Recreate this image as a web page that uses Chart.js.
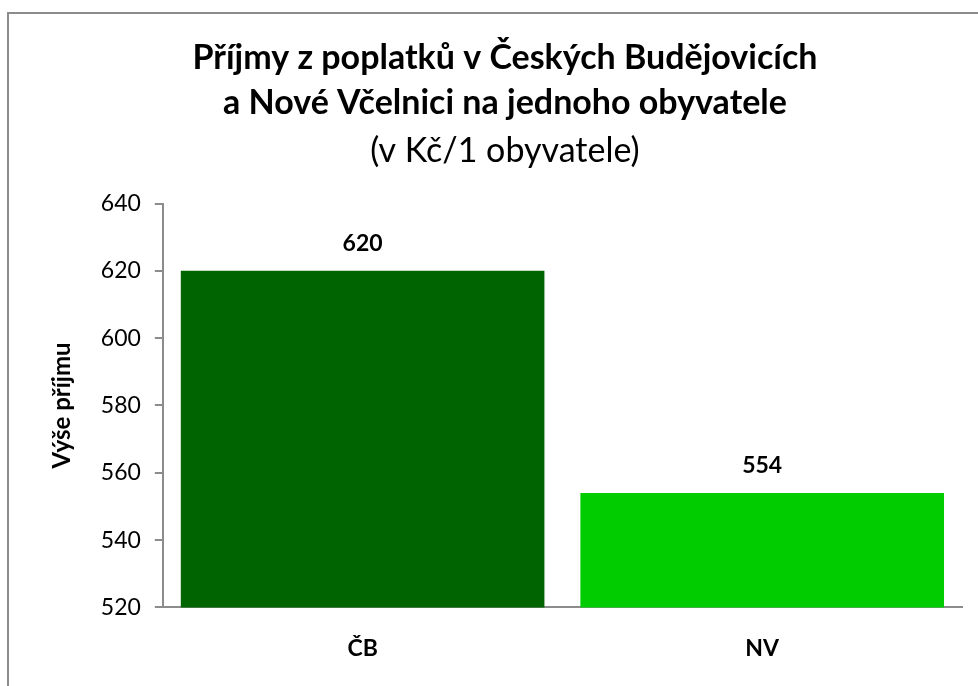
<!DOCTYPE html>
<html>
<head>
<meta charset="utf-8">
<script src="https://cdn.jsdelivr.net/npm/chart.js@4.4.0/dist/chart.umd.min.js"></script>
<style>
  html, body { margin: 0; padding: 0; background: #fff; }
  #wrap { width: 978px; height: 686px; position: relative; }
</style>
</head>
<body>
<div id="wrap"><canvas id="chart"></canvas></div>
<script>
// data
const categories = ['ČB', 'NV'];
const values = [620, 554];
const barColors = ['#006400', '#00CC00'];
const titleLines = ['Příjmy z poplatků v Českých Budějovicích', 'a Nové Včelnici na jednoho obyvatele'];
const subtitleText = '(v Kč/1 obyvatele)';
const yTitle = 'Výše příjmu';
const yMin = 520, yMax = 640, yStep = 20;

const FONT = 'Lato, "Open Sans", sans-serif';

// gray frame round the chart (top and left edge only visible, like the screenshot)
const framePlugin = {
    id: 'frame',
    beforeDraw(chart) {
        const c = chart.ctx;
        c.save();
        c.fillStyle = '#fff';
        c.fillRect(0, 0, chart.width, chart.height);
        c.strokeStyle = '#8c8c8c';
        c.lineWidth = 2;
        c.strokeRect(8, 13, chart.width + 20, chart.height + 20);
        c.restore();
    }
};

// value labels above the bars
const valueLabels = {
    id: 'valueLabels',
    afterDatasetsDraw(chart) {
        const c = chart.ctx;
        const meta = chart.getDatasetMeta(0);
        c.save();
        c.font = 'bold 23px ' + FONT;
        c.fillStyle = '#000';
        c.textAlign = 'center';
        c.textBaseline = 'middle';
        meta.data.forEach((bar, i) => {
            c.fillText(values[i], bar.x, bar.y - 27);
        });
        c.restore();
    }
};

const ctx = document.getElementById('chart').getContext('2d');
const chart = new Chart(ctx, {
    type: 'bar',
    data: {
        labels: categories,
        datasets: [{
            data: values,
            backgroundColor: barColors,
            borderWidth: 0,
            barPercentage: 0.91,
            categoryPercentage: 1.0
        }]
    },
    options: {
        responsive: true,
        maintainAspectRatio: false,
        animation: false,
        layout: { padding: { top: 13, left: 48, right: 16, bottom: 5 } },
        plugins: {
            legend: { display: false },
            tooltip: { enabled: false },
            title: {
                display: true,
                text: titleLines,
                color: '#000',
                font: { family: FONT, size: 34, weight: 'bold', lineHeight: 1.32 },
                padding: { top: 23, bottom: 0 }
            },
            subtitle: {
                display: true,
                text: subtitleText,
                color: '#000',
                font: { family: FONT, size: 34, weight: 'normal', lineHeight: 1.2 },
                padding: { top: 5, bottom: 32 }
            }
        },
        scales: {
            x: {
                grid: { display: false },
                border: { display: true, color: '#8c8c8c', width: 2 },
                ticks: {
                    color: '#000',
                    padding: 19,
                    font: { family: FONT, size: 23, weight: 'bold' }
                }
            },
            y: {
                min: yMin,
                max: yMax,
                grid: {
                    drawOnChartArea: false,
                    drawTicks: true,
                    tickLength: 8,
                    color: '#8c8c8c',
                    lineWidth: 2
                },
                border: { display: true, color: '#8c8c8c', width: 2 },
                ticks: {
                    stepSize: yStep,
                    color: '#000',
                    padding: 14,
                    font: { family: FONT, size: 23 }
                },
                title: {
                    display: true,
                    text: yTitle,
                    color: '#000',
                    padding: { top: 0, bottom: 10 },
                    font: { family: FONT, size: 24, weight: 'bold' }
                }
            }
        }
    },
    plugins: [framePlugin, valueLabels]
});
</script>
</body>
</html>
